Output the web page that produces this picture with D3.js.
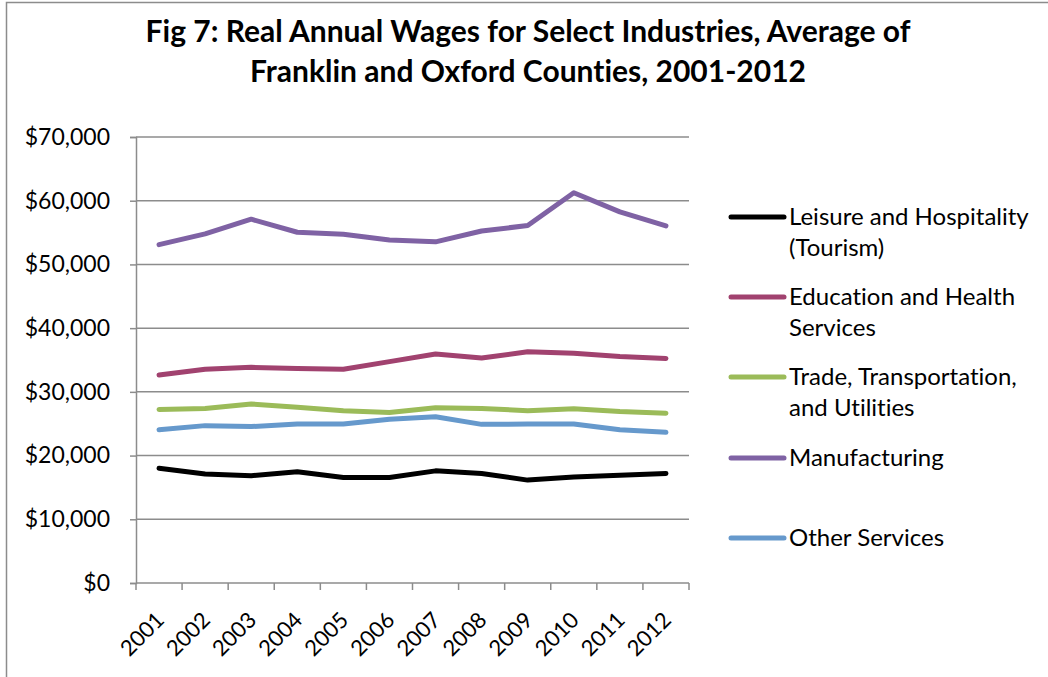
<!DOCTYPE html>
<html>
<head>
<meta charset="utf-8">
<script src="https://cdn.jsdelivr.net/npm/d3@7"></script>
<style>
  html, body { margin: 0; padding: 0; background: #fff; }
  svg { display: block; font-family: Lato, "Open Sans", sans-serif; font-variant-ligatures: none; }
</style>
</head>
<body>
<svg id="chart" width="1048" height="677"></svg>
<script>
// Real annual wages by industry, averaged over Franklin and Oxford counties
const years = ["2001","2002","2003","2004","2005","2006","2007","2008","2009","2010","2011","2012"];
const seriesNames = [
  ["Leisure and Hospitality", "(Tourism)"],
  ["Education and Health", "Services"],
  ["Trade, Transportation,", "and Utilities"],
  ["Manufacturing"],
  ["Other Services"]
];
const leisure       = [18000, 17100, 16850, 17450, 16550, 16550, 17600, 17200, 16150, 16650, 16900, 17200];
const education     = [32650, 33550, 33850, 33650, 33550, 34750, 35950, 35300, 36300, 36050, 35550, 35250];
const trade         = [27250, 27400, 28100, 27600, 27050, 26750, 27500, 27400, 27050, 27350, 26900, 26650];
const manufacturing = [53100, 54800, 57100, 55050, 54750, 53850, 53550, 55250, 56100, 61250, 58250, 56050];
const otherServices = [24050, 24700, 24550, 24950, 24950, 25700, 26100, 24900, 24950, 24950, 24050, 23650];
const yTicks = [0, 10000, 20000, 30000, 40000, 50000, 60000, 70000];
const colors = ["#000000", "#A1426F", "#9BBB59", "#7F62A4", "#6699CC"];

const allSeries = [leisure, education, trade, manufacturing, otherServices];

const svg = d3.select("#chart");

// outer frame
svg.append("rect")
  .attr("x", 6.5).attr("y", 2.5)
  .attr("width", 1100).attr("height", 700)
  .attr("fill", "none").attr("stroke", "#8c8c8c").attr("stroke-width", 1.5);

// title
const title = svg.append("text")
  .attr("x", 528).attr("text-anchor", "middle")
  .attr("font-weight", "bold").attr("font-size", 30).attr("fill", "#000");
title.append("tspan").attr("x", 528).attr("y", 42).text("Fig 7: Real Annual Wages for Select Industries, Average of");
title.append("tspan").attr("x", 528).attr("y", 82).text("Franklin and Oxford Counties, 2001-2012");

const plot = { left: 136, right: 689, top: 137, bottom: 583 };

const x = d3.scaleBand().domain(years).range([plot.left, plot.right]);
const y = d3.scaleLinear().domain([0, 70000]).range([plot.bottom, plot.top]);

// horizontal gridlines
svg.append("g")
  .selectAll("line")
  .data(yTicks.filter(d => d > 0))
  .join("line")
  .attr("x1", plot.left).attr("x2", plot.right)
  .attr("y1", d => y(d)).attr("y2", d => y(d))
  .attr("stroke", "#8c8c8c").attr("stroke-width", 1.5);

// y axis
const fmt = d => "$" + d3.format(",")(d);
const yAxis = svg.append("g")
  .attr("transform", `translate(${plot.left},0)`)
  .call(d3.axisLeft(y).tickValues(yTicks).tickFormat(fmt).tickSize(6).tickPadding(20));
yAxis.select(".domain").attr("stroke", "#8c8c8c").attr("stroke-width", 1.5);
yAxis.selectAll(".tick line").attr("stroke", "#8c8c8c").attr("stroke-width", 1.5);
yAxis.selectAll(".tick text")
  .attr("font-size", 23).attr("fill", "#000")
  .attr("font-family", "Lato, 'Open Sans', sans-serif");

// x axis: ticks sit on category boundaries
const xAxis = svg.append("g")
  .attr("transform", `translate(0,${plot.bottom})`);
xAxis.append("line")
  .attr("x1", plot.left).attr("x2", plot.right)
  .attr("stroke", "#8c8c8c").attr("stroke-width", 1.5);
const boundaries = years.map(d => x(d)).concat([plot.right]);
xAxis.selectAll("line.tk")
  .data(boundaries)
  .join("line").attr("class", "tk")
  .attr("x1", d => d).attr("x2", d => d)
  .attr("y1", 0).attr("y2", 7)
  .attr("stroke", "#8c8c8c").attr("stroke-width", 1.5);
xAxis.selectAll("text")
  .data(years)
  .join("text")
  .attr("transform", d => `translate(${x(d) + x.bandwidth() / 2 + 1},${33}) rotate(-45)`)
  .attr("text-anchor", "end")
  .attr("dy", "0.35em")
  .attr("font-size", 22).attr("fill", "#000")
  .text(d => d);

// series lines
const line = d3.line()
  .x((d, i) => x(years[i]) + x.bandwidth() / 2)
  .y(d => y(d));

svg.append("g")
  .selectAll("path")
  .data(allSeries)
  .join("path")
  .attr("d", d => line(d))
  .attr("fill", "none")
  .attr("stroke", (d, i) => colors[i])
  .attr("stroke-width", 5)
  .attr("stroke-linejoin", "round")
  .attr("stroke-linecap", "round");

// legend
const legendY = [217, 297, 377, 458, 538];
const legend = svg.append("g");
seriesNames.forEach((names, i) => {
  legend.append("line")
    .attr("x1", 731).attr("x2", 784)
    .attr("y1", legendY[i]).attr("y2", legendY[i])
    .attr("stroke", colors[i]).attr("stroke-width", 5)
    .attr("stroke-linecap", "round");
  const t = legend.append("text")
    .attr("font-size", 24).attr("fill", "#000");
  names.forEach((n, j) => {
    t.append("tspan")
      .attr("x", 789)
      .attr("y", legendY[i] + j * 31)
      .attr("dy", "0.35em")
      .text(n);
  });
});
</script>
</body>
</html>
